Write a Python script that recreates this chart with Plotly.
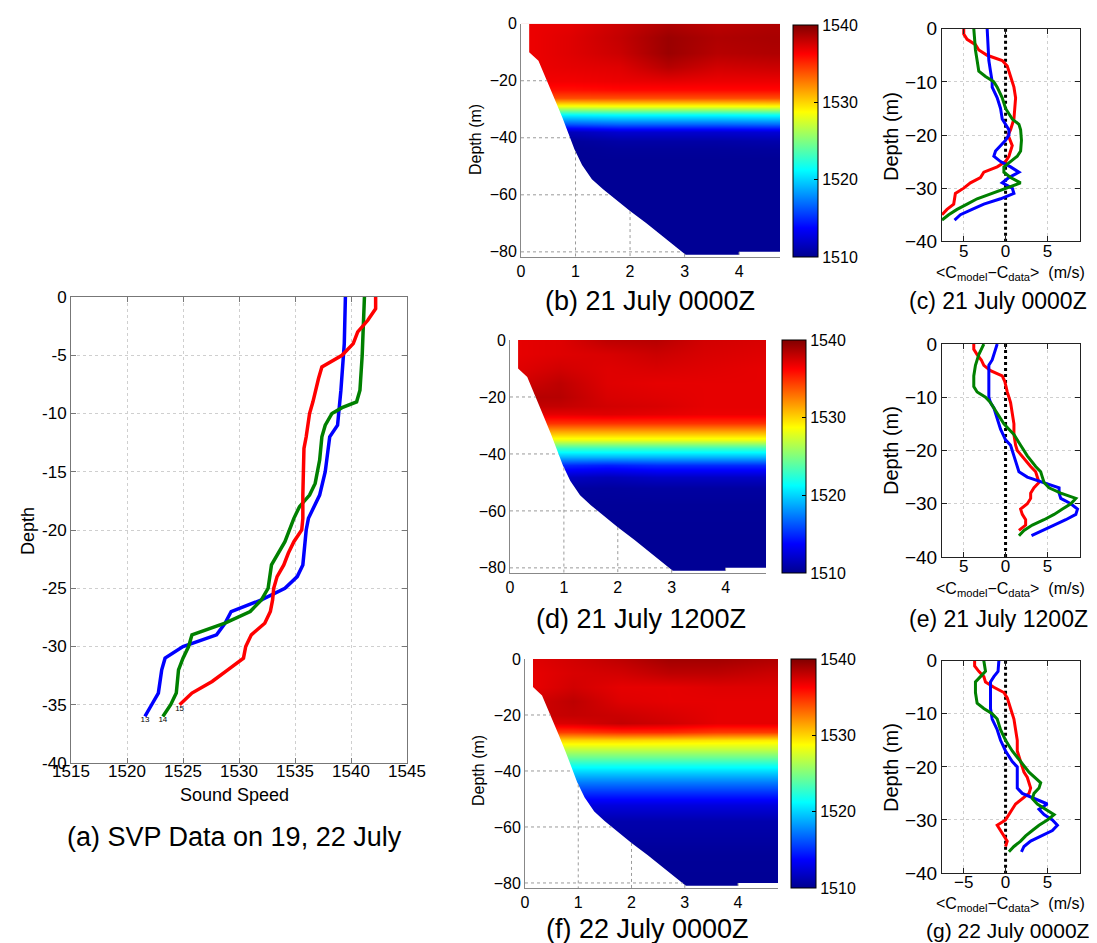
import numpy as np
import plotly.graph_objects as go

W, H = 1097, 943
FONT = "Liberation Sans, Arial, Helvetica, sans-serif"

# ---------------- (a) SVP casts: depth (m) and sound speed (m/s)
cast13_depth = [0, -4, -8, -10, -11, -12, -15, -17, -19, -20, -23, -24, -25, -26, -27, -28, -29, -30, -31, -32, -34, -35, -36]
cast13_speed = [1539.5, 1539.4, 1539.1, 1538.9, 1538.8, 1538.1, 1537.7, 1537.2, 1536.2, 1536.0, 1535.7, 1535.2, 1534.1,
                1532.0, 1529.3, 1528.75, 1528.0, 1525.0, 1523.4, 1523.1, 1522.8, 1522.2, 1521.6]
cast14_depth = [0, -5, -8, -9, -9.5, -10, -11, -12, -14, -16, -17, -18, -19, -21, -23, -25, -26, -27, -28, -29, -30,
                -31, -32, -34, -35, -36]
cast14_speed = [1541.2, 1541.0, 1540.8, 1540.5, 1539.2, 1538.3, 1537.7, 1537.4, 1537.2, 1536.8, 1536.3, 1535.4, 1534.9,
                1534.1, 1532.9, 1532.6, 1532.0, 1531.0, 1528.75, 1525.8, 1525.5, 1525.0, 1524.6, 1524.4, 1523.9, 1523.2]
cast15_depth = [0, -1, -2, -3, -4, -5, -6, -7, -9, -10, -12, -13, -17, -19, -20, -21, -22, -23, -24, -25, -26, -27,
                -28, -29, -30, -31, -32, -33, -34, -35]
cast15_speed = [1542.2, 1542.2, 1541.5, 1540.6, 1540.2, 1539.2, 1537.4, 1537.1, 1536.6, 1536.3, 1536.0, 1535.8, 1535.7,
                1535.7, 1535.6, 1534.9, 1534.4, 1534.0, 1533.4, 1533.1, 1533.0, 1532.8, 1532.3, 1531.1, 1530.6, 1530.4,
                1529.0, 1527.6, 1525.8, 1524.7]
cast_labels = ["13", "14", "15"]

# ---------------- model sound-speed sections (b), (d), (f)
depth_levels = [0, -5, -10, -15, -20, -23, -26, -29, -32, -35, -38, -41, -44, -48, -52, -58, -70, -82]
range_km = [0.2, 0.9, 1.8, 2.7, 3.6, 4.6]

ssp_b = [
    [1536.8, 1537.0, 1537.8, 1538.6, 1538.2, 1538.6],
    [1536.8, 1537.2, 1538.0, 1539.2, 1538.6, 1538.8],
    [1536.8, 1537.2, 1537.8, 1539.2, 1538.4, 1538.6],
    [1536.8, 1537.0, 1537.2, 1538.4, 1537.6, 1537.8],
    [1536.6, 1536.6, 1536.8, 1537.0, 1536.8, 1536.8],
    [1535.8, 1535.8, 1536.0, 1536.0, 1536.0, 1536.0],
    [1534.0, 1534.0, 1534.0, 1534.0, 1534.0, 1534.0],
    [1527.8, 1527.8, 1528.0, 1528.0, 1528.0, 1528.2],
    [1521.0, 1521.0, 1521.2, 1521.2, 1521.2, 1521.4],
    [1516.4, 1516.4, 1516.8, 1516.8, 1516.8, 1517.0],
    [1512.0, 1511.5, 1512.2, 1512.2, 1512.2, 1512.4],
    [1510.6, 1510.4, 1510.8, 1510.8, 1510.8, 1511.0],
    [1510.3, 1510.2, 1510.4, 1510.4, 1510.4, 1510.5],
    [1510.2, 1510.2, 1510.2, 1510.2, 1510.2, 1510.2],
    [1510.2, 1510.2, 1510.2, 1510.2, 1510.2, 1510.2],
    [1510.2, 1510.2, 1510.2, 1510.2, 1510.2, 1510.2],
    [1510.2, 1510.2, 1510.2, 1510.2, 1510.2, 1510.2],
    [1510.2, 1510.2, 1510.2, 1510.2, 1510.2, 1510.2],
]
ssp_d = [
    [1537.0, 1537.2, 1538.2, 1538.4, 1537.6, 1537.4],
    [1537.0, 1537.2, 1537.4, 1537.8, 1537.4, 1537.2],
    [1537.2, 1537.6, 1537.2, 1537.4, 1537.2, 1537.0],
    [1537.6, 1538.2, 1537.2, 1537.0, 1537.0, 1537.0],
    [1538.4, 1538.4, 1537.4, 1537.2, 1537.0, 1537.0],
    [1538.0, 1538.0, 1537.6, 1537.4, 1537.0, 1537.0],
    [1537.0, 1537.0, 1537.2, 1537.0, 1536.8, 1536.8],
    [1534.8, 1534.8, 1534.8, 1534.8, 1534.8, 1534.8],
    [1531.5, 1531.5, 1531.5, 1531.5, 1531.5, 1531.5],
    [1528.0, 1528.0, 1528.0, 1528.0, 1528.0, 1528.0],
    [1523.0, 1523.0, 1523.0, 1523.0, 1523.0, 1523.0],
    [1519.0, 1519.0, 1519.0, 1519.0, 1519.0, 1519.0],
    [1515.0, 1515.0, 1514.6, 1515.0, 1515.0, 1515.0],
    [1511.8, 1511.8, 1511.4, 1511.8, 1511.8, 1511.8],
    [1510.6, 1510.6, 1510.5, 1510.6, 1510.6, 1510.6],
    [1510.3, 1510.3, 1510.3, 1510.3, 1510.3, 1510.3],
    [1510.2, 1510.2, 1510.2, 1510.2, 1510.2, 1510.2],
    [1510.2, 1510.2, 1510.2, 1510.2, 1510.2, 1510.2],
]
ssp_f = [
    [1537.2, 1537.6, 1538.2, 1539.0, 1539.0, 1538.6],
    [1537.0, 1537.4, 1537.6, 1538.2, 1538.2, 1537.8],
    [1537.0, 1537.6, 1537.0, 1537.0, 1537.2, 1537.2],
    [1537.6, 1538.2, 1537.2, 1537.0, 1537.0, 1537.0],
    [1537.8, 1538.0, 1537.8, 1537.4, 1537.0, 1537.0],
    [1537.2, 1537.4, 1538.0, 1537.6, 1537.0, 1537.0],
    [1534.5, 1534.5, 1535.0, 1535.0, 1534.5, 1534.5],
    [1530.0, 1530.0, 1530.0, 1529.8, 1529.6, 1529.4],
    [1527.0, 1527.0, 1527.0, 1527.0, 1527.0, 1527.0],
    [1524.5, 1524.5, 1524.5, 1524.5, 1524.5, 1524.5],
    [1521.8, 1521.8, 1521.8, 1521.8, 1521.8, 1521.8],
    [1519.4, 1519.4, 1519.4, 1519.4, 1519.4, 1519.4],
    [1517.4, 1517.4, 1517.4, 1517.4, 1517.4, 1517.4],
    [1515.0, 1515.0, 1515.0, 1515.0, 1515.0, 1515.0],
    [1512.6, 1512.6, 1512.6, 1512.6, 1512.6, 1512.6],
    [1511.0, 1511.0, 1511.0, 1511.0, 1511.0, 1511.0],
    [1510.3, 1510.3, 1510.3, 1510.3, 1510.3, 1510.3],
    [1510.2, 1510.2, 1510.2, 1510.2, 1510.2, 1510.2],
]
# seafloor (range km, depth m)
bathy_km = [0.15, 0.15, 0.32, 0.48, 0.63, 0.76, 0.86, 0.98, 1.12, 1.30, 1.50, 1.75, 2.00, 2.30, 2.60, 2.85, 3.02, 4.00, 4.00, 4.75]
bathy_m = [0, -10, -13, -20, -27, -33, -38, -44, -49.5, -54.5, -58, -62, -65.7, -70, -74.5, -78.2, -81, -81, -80, -80]

# ---------------- model-data differences (c), (e), (g)
c_red_d = [0, -1, -2, -3, -4, -5, -6, -7, -9, -11, -13, -15, -17, -19, -20, -22, -23, -24, -25, -26, -27, -28, -29, -30, -31, -33, -34, -35]
c_red_v = [-5.0, -5.0, -4.6, -3.6, -3.2, -2.2, -0.4, 0.2, 0.6, 1.0, 1.2, 1.1, 1.0, 0.6, 0.3, 0.8, 0.6, 0.4, 0.0, -1.0, -2.6, -3.0, -4.2, -5.0, -6.0, -6.2, -7.0, -7.6]
c_blue_d = [0, -4, -6, -8, -10, -11, -13, -15, -17, -19, -20, -21, -22, -23, -24, -25, -26, -27, -28, -29, -30, -31, -32, -33, -34, -35, -36]
c_blue_v = [-2.2, -2.1, -2.0, -1.8, -1.6, -1.6, -1.0, -0.6, -0.4, 0.4, 0.4, 0.0, -0.6, -1.2, -1.4, -0.6, 0.6, 1.6, 0.4, -0.4, 0.8, 1.0, -0.6, -2.6, -4.0, -5.4, -6.1]
c_green_d = [0, -2, -4, -6, -8, -9, -10, -11, -13, -15, -17, -18, -19, -21, -23, -24, -25, -26, -27, -28, -29, -30, -31, -32, -33, -34, -35, -36]
c_green_v = [-3.8, -3.7, -3.6, -3.4, -3.2, -2.4, -1.4, -1.0, -0.4, 0.0, 0.8, 1.6, 1.8, 1.9, 1.8, 1.4, 0.6, -0.2, -0.2, 0.6, 1.8, 0.0, -1.8, -3.4, -4.6, -5.8, -6.8, -7.6]

e_red_d = [0, -1, -2, -3, -4, -5, -6, -7, -9, -11, -13, -15, -17, -19, -20, -21, -22, -23, -24, -25, -26, -27, -28, -29, -30, -31, -32, -33, -34, -35]
e_red_v = [-3.8, -3.8, -3.4, -2.9, -2.6, -1.8, -0.4, -0.1, 0.2, 0.6, 0.8, 1.0, 1.0, 1.2, 1.4, 1.9, 2.4, 3.0, 3.6, 3.8, 4.0, 3.4, 3.0, 3.0, 2.6, 1.8, 2.0, 2.4, 2.4, 1.6]
e_blue_d = [0, -1, -3, -4, -6, -8, -10, -11, -12, -14, -16, -18, -19, -21, -23, -24, -25, -26, -27, -28, -29, -30, -31, -32, -33, -34, -35, -36]
e_blue_v = [-1.0, -1.2, -1.6, -2.0, -2.0, -2.0, -2.0, -1.8, -1.4, -1.0, -0.6, 0.0, 0.6, 1.0, 1.4, 1.6, 2.6, 4.6, 6.4, 6.4, 6.6, 7.8, 8.6, 8.4, 7.2, 5.8, 4.4, 3.1]
e_green_d = [0, -2, -4, -6, -8, -9, -10, -11, -13, -15, -16, -17, -19, -21, -23, -24, -25, -26, -27, -28, -29, -30, -31, -32, -33, -34, -35, -36]
e_green_v = [-2.6, -3.2, -3.6, -3.8, -3.8, -3.4, -2.4, -1.8, -1.0, -0.2, 0.4, 1.0, 1.8, 2.6, 3.6, 4.2, 4.4, 4.6, 5.2, 6.6, 8.4, 7.8, 6.8, 5.8, 4.6, 3.2, 2.2, 1.6]

g_red_d = [0, -1, -2, -3, -4, -5, -6, -7, -9, -11, -13, -15, -17, -19, -21, -22, -23, -24, -25, -26, -27, -28, -29, -30, -31, -32, -33, -34, -35]
g_red_v = [-3.7, -3.7, -3.2, -2.6, -2.4, -1.4, -0.2, 0.2, 0.6, 1.0, 1.2, 1.4, 1.4, 1.8, 2.2, 2.6, 2.8, 3.0, 2.8, 2.0, 1.2, 0.8, 0.4, 0.0, -1.0, -0.6, -0.2, 0.2, 0.0]
g_blue_d = [0, -2, -3, -4, -5, -7, -9, -11, -13, -15, -17, -19, -20, -22, -24, -25, -26, -27, -28, -29, -30, -31, -32, -33, -34, -35, -36]
g_blue_v = [-0.8, -0.9, -1.4, -1.8, -1.8, -1.8, -1.8, -1.6, -1.0, -0.6, 0.0, 0.8, 1.4, 1.4, 1.4, 2.0, 3.6, 5.0, 4.0, 4.6, 5.6, 6.2, 5.6, 4.2, 3.0, 2.2, 1.9]
g_green_d = [0, -2, -3, -4, -6, -8, -9, -10, -11, -13, -15, -17, -19, -21, -23, -24, -25, -26, -27, -28, -29, -30, -31, -32, -33, -34, -35, -36]
g_green_v = [-2.6, -2.4, -3.0, -3.6, -3.6, -3.4, -2.6, -1.6, -1.0, -0.6, 0.0, 0.8, 1.8, 2.8, 4.2, 4.0, 3.4, 3.2, 3.8, 4.8, 5.8, 5.0, 4.0, 3.2, 2.4, 1.8, 1.0, 0.4]

captions = ["(a) SVP Data on 19, 22 July", "(b) 21 July 0000Z", "(c) 21 July 0000Z", "(d) 21 July 1200Z",
            "(e) 21 July 1200Z", "(f) 22 July 0000Z", "(g) 22 July 0000Z"]

BLUE, GREEN, RED = "#0000FF", "#008000", "#FF0000"
JET = [[0.0, "#00008F"], [0.125, "#0000FF"], [0.375, "#00FFFF"], [0.625, "#FFFF00"], [0.875, "#FF0000"], [1.0, "#800000"]]


def dx(p):
    return p / W


def dy(p):
    return 1 - p / H


fig = go.Figure()

# ---- panel (a)
for d, s, col, lab in [(cast13_depth, cast13_speed, BLUE, cast_labels[0]),
                       (cast14_depth, cast14_speed, GREEN, cast_labels[1]),
                       (cast15_depth, cast15_speed, RED, cast_labels[2])]:
    txt = [""] * (len(s) - 1) + [lab]
    fig.add_trace(go.Scatter(x=s, y=d, mode="lines+text", text=txt, textposition="bottom center",
                             textfont=dict(size=8, color="black", family=FONT),
                             line=dict(color=col, width=3.5), xaxis="x", yaxis="y",
                             showlegend=False, hoverinfo="skip"))

# ---- heatmap panels
heat_specs = [
    (ssp_b, "2", (785, 17, 249, 25)),
    (ssp_d, "3", (774, 332, 565, 24)),
    (ssp_f, "4", (783, 651, 880, 25)),
]
YBOT = -81.8
bk = np.array(bathy_km[1:17])
bm = np.array(bathy_m[1:17])
for table, k, (cbx, cbt, cbb, cbw) in heat_specs:
    fig.add_trace(go.Heatmap(
        x=range_km, y=depth_levels[::-1], z=table[::-1], zmin=1510, zmax=1540, colorscale=JET,
        zsmooth="best", xaxis="x" + k, yaxis="y" + k, hoverinfo="skip",
        colorbar=dict(x=dx(cbx), xanchor="left", y=dy((cbt + cbb) / 2), yanchor="middle",
                      len=(cbb - cbt) / H, lenmode="fraction", thickness=cbw, thicknessmode="pixels",
                      xpad=0, ypad=0, outlinecolor="black", outlinewidth=1,
                      tickvals=[1510, 1520, 1530, 1540], ticks="inside", ticklen=4, tickcolor="black",
                      tickfont=dict(size=16, family=FONT, color="black"))))
    # white mask below the seafloor
    mx = [-0.3, bathy_km[0]] + bathy_km + [5.2, 5.2, -0.3]
    my = [2, 2] + bathy_m + [bathy_m[-1], -90, -90]
    fig.add_trace(go.Scatter(x=mx, y=my, mode="lines", fill="toself", fillcolor="white",
                             line=dict(width=0, color="white"), xaxis="x" + k, yaxis="y" + k,
                             showlegend=False, hoverinfo="skip"))
    # dotted grid visible only where there is no water
    gx, gy = [], []
    for xv in [1, 2, 3, 4]:
        gx += [xv, xv, None]
        gy += [float(np.interp(xv, bathy_km, bathy_m)), YBOT, None]
    for yv in [-20, -40, -60, -80]:
        gx += [0, float(np.interp(-yv, -bm, bk)), None]
        gy += [yv, yv, None]
    fig.add_trace(go.Scatter(x=gx, y=gy, mode="lines", line=dict(color="#9a9a9a", width=1, dash="dot"),
                             xaxis="x" + k, yaxis="y" + k, showlegend=False, hoverinfo="skip"))

# ---- difference panels
for k, series in [("5", [(c_red_d, c_red_v, RED), (c_blue_d, c_blue_v, BLUE), (c_green_d, c_green_v, GREEN)]),
                  ("6", [(e_red_d, e_red_v, RED), (e_blue_d, e_blue_v, BLUE), (e_green_d, e_green_v, GREEN)]),
                  ("7", [(g_red_d, g_red_v, RED), (g_blue_d, g_blue_v, BLUE), (g_green_d, g_green_v, GREEN)])]:
    fig.add_trace(go.Scatter(x=[0, 0], y=[0, -40], mode="lines", line=dict(color="black", width=3, dash="dot"),
                             xaxis="x" + k, yaxis="y" + k, showlegend=False, hoverinfo="skip"))
    for d, v, col in series:
        fig.add_trace(go.Scatter(x=v, y=d, mode="lines", line=dict(color=col, width=3),
                                 xaxis="x" + k, yaxis="y" + k, showlegend=False, hoverinfo="skip"))

# ---- axes
tickfont = lambda s: dict(size=s, family=FONT, color="black")
box = dict(showline=True, mirror="ticks", ticks="inside", ticklen=5, showgrid=True, griddash="dot",
           gridcolor="#cfcfcf", gridwidth=1, zeroline=False, automargin=False)

layout = dict(
    width=W, height=H, autosize=False, margin=dict(l=0, r=0, t=0, b=0, pad=0, autoexpand=False),
    paper_bgcolor="white", plot_bgcolor="white", showlegend=False,
    font=dict(family=FONT, color="black"),
    xaxis=dict(domain=[dx(63), dx(399)], range=[1515, 1545], tickvals=list(range(1515, 1546, 5)),
               tickfont=tickfont(17), linecolor="#777", tickcolor="#777", anchor="y",
               ticklabelstandoff=-7, **box),
    yaxis=dict(domain=[dy(755), dy(289)], range=[-40, 0], tickvals=list(range(0, -41, -5)),
               ticktext=[str(v) for v in range(0, -41, -5)],
               tickfont=tickfont(17), linecolor="#777", tickcolor="#777", anchor="x", **box),
)
heat_dom = {"2": (513, 772, 15.7, 249), "3": (502, 758, 332, 565), "4": (517, 770, 651, 880)}
for k, (x0, x1, y0, y1) in heat_dom.items():
    layout["xaxis" + k] = dict(domain=[dx(x0), dx(x1)], range=[0, 4.75], tickvals=[0, 1, 2, 3, 4],
                               tickfont=tickfont(16), showline=True, linecolor="#888", ticks="",
                               showgrid=False, zeroline=False, anchor="y" + k, automargin=False)
    layout["yaxis" + k] = dict(domain=[dy(y1), dy(y0)], range=[YBOT, 0], tickvals=[0, -20, -40, -60, -80],
                               tickfont=tickfont(16), showline=True, linecolor="#888", ticks="",
                               showgrid=False, zeroline=False, anchor="x" + k, automargin=False)
diff_dom = {"5": (20.7, 233.3), "6": (336, 549), "7": (652.7, 865)}
for k, (y0, y1) in diff_dom.items():
    ttxt = ["\u22125", "0", "5"] if k == "7" else ["5", "0", "5"]
    layout["xaxis" + k] = dict(domain=[dx(934), dx(1072)], range=[-7.6, 8.9], tickvals=[-5, 0, 5], ticktext=ttxt,
                               tickfont=tickfont(17), linecolor="#222", tickcolor="#222", anchor="y" + k,
                               ticklabelstandoff=-6, **box)
    layout["yaxis" + k] = dict(domain=[dy(y1), dy(y0)], range=[-40, 0], tickvals=[0, -10, -20, -30, -40],
                               tickfont=tickfont(19), linecolor="#222", tickcolor="#222", anchor="x" + k, **box)

ann = []


def label(text, x, y, size, angle=0):
    ann.append(dict(text=text, x=dx(x), y=dy(y), xref="paper", yref="paper", showarrow=False,
                    xanchor="center", yanchor="middle", textangle=angle,
                    font=dict(size=size, family=FONT, color="black")))


label("Depth", 20, 523, 18, -90)
label("Sound Speed", 227, 787, 18)
label(captions[0], 227, 829, 27)
label("Depth (m)", 467, 132, 16, -90)
label("Depth (m)", 470, 763, 16, -90)
label(captions[1], 642, 293, 27)
label(captions[3], 633, 611, 27)
label(captions[5], 639, 921, 27)
xlab = "&lt;C<sub>model</sub>\u2212C<sub>data</sub>&gt;&nbsp;&nbsp;(m/s)"
for yl, yx, yc, cap, cs, cx in [(129, 265, 293, captions[2], 23, 990),
                                (443, 581, 611, captions[4], 23, 990),
                                (760, 896, 922, captions[6], 21, 1000)]:
    label("Depth (m)", 883, yl, 20, -90)
    label(xlab, 1003, yx, 16)
    label(cap, cx, yc, cs)
layout["annotations"] = ann

fig.update_layout(**layout)
fig.write_html("out.html")
